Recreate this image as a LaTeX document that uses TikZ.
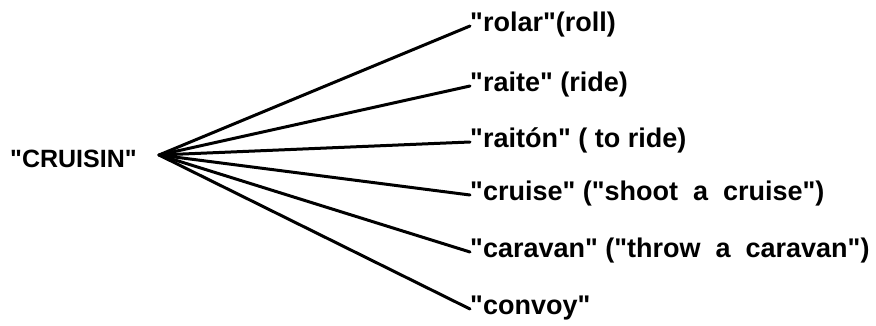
\documentclass[tikz,border=0pt]{standalone}
\usepackage{fontspec}
\setmainfont{Liberation Sans}[Ligatures=TeXOff]
\begin{document}
\begin{tikzpicture}[x=1pt,y=1pt,
  lbl/.style={anchor=base west,inner sep=0pt,font=\fontsize{27}{30}\selectfont\bfseries},
  rootlbl/.style={anchor=base west,inner sep=0pt,font=\fontsize{25}{28}\selectfont\bfseries},
  spoke/.style={line width=3pt,line cap=round}]
\useasboundingbox (0,0) rectangle (876,325);
\node[rootlbl] (root) at (10,158) {"CRUISIN"};
\coordinate (hub) at (159,170);
\node[lbl] (a) at (470,294) {"rolar"(roll)};
\node[lbl] (b) at (470,234) {"raite" (ride)};
\node[lbl] (c) at (470,178) {"raitón" ( to ride)};
\node[lbl] (d) at (470,125) {"cruise" ("shoot\ \ a\ \ cruise")};
\node[lbl] (e) at (470,68) {"caravan" ("throw\ \ a\ \ caravan")};
\node[lbl] (f) at (470,11) {"convoy"};
\foreach \n in {a,b,c,d,e,f}
  \draw[spoke] (hub) -- ([yshift=5pt]\n.base west);
\end{tikzpicture}
\end{document}
